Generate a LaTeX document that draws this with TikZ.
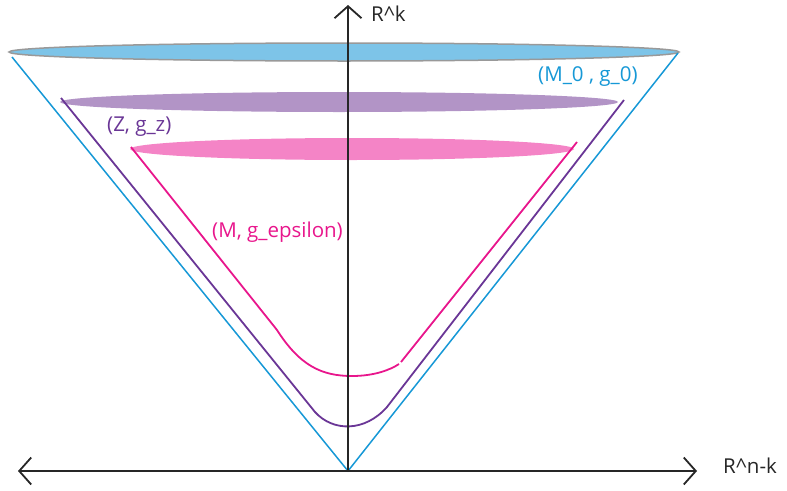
\documentclass[tikz,border=0pt]{standalone}
\usepackage{fontspec}
\setmainfont{Open Sans}
\usetikzlibrary{arrows.meta}

\definecolor{coneblue}{RGB}{22,152,214}
\definecolor{diskblue}{RGB}{125,196,232}
\definecolor{zpurple}{RGB}{106,54,150}
\definecolor{diskpurple}{RGB}{178,148,198}
\definecolor{mpink}{RGB}{232,22,140}
\definecolor{diskpink}{RGB}{244,132,198}

\begin{document}
\begin{tikzpicture}[x=1pt, y=-1pt, >={Straight Barb[length=12pt,width=27pt]}]

% Styles
\tikzset{
  axis/.style={line width=1.8pt, black!85},
  lbl/.style={font=\fontsize{20.5}{24}\selectfont, inner sep=0pt, anchor=west},
  blueline/.style={line width=1.5pt, coneblue},
  purpleline/.style={line width=1.8pt, zpurple},
  pinkline/.style={line width=1.8pt, mpink}
}

\useasboundingbox (0,0) rectangle (787,490);

% Coordinates
\coordinate (O) at (348,471);      % vertex of the cone
\coordinate (Ytop) at (348,5);
\coordinate (Xleft) at (18,471);
\coordinate (Xright) at (697,471);

% Disks
\fill[diskpink] (352,149) ellipse (222 and 11);
\fill[diskpurple] (339,102) ellipse (279 and 10);
\draw[line width=1.5pt, gray!80, fill=diskblue] (344,52) ellipse (335 and 9);

% Cone (M_0, g_0)
\coordinate (B1) at (12,57);
\coordinate (B2) at (678,53);
\draw[blueline] (B1) -- (O) -- (B2);

% Z
\coordinate (P1) at (61,98);
\coordinate (P2) at (624,100);
\draw[purpleline] (P1) -- (315,412) .. controls (333,432) and (365,432) .. (387,407) -- (P2);

% M
\coordinate (Q1) at (131,147);
\coordinate (Q2) at (577,142);
\draw[pinkline] (Q1) -- (277,330) .. controls (300,366) and (322,376) .. (352,376)
  .. controls (374,376) and (390,370) .. (399,364);
\draw[pinkline] (401,362) -- (Q2);

% Axes
\draw[axis, ->] (O) -- (Ytop);
\draw[axis, <->] (Xleft) -- (Xright);

% Labels
\node[lbl, text=black!85] (Rk) at (371,14) {R\textasciicircum k};
\node[lbl, text=black!85] (Rnk) at (723,466) {R\textasciicircum n-k};
\node[lbl, text=coneblue] (M0) at (538,77) {(M\_0 , g\_0)};
\node[lbl, text=zpurple] (Z) at (107,127) {(Z, g\_z)};
\node[lbl, text=mpink] (M) at (212,232) {(M, g\_epsilon)};

\end{tikzpicture}
\end{document}
